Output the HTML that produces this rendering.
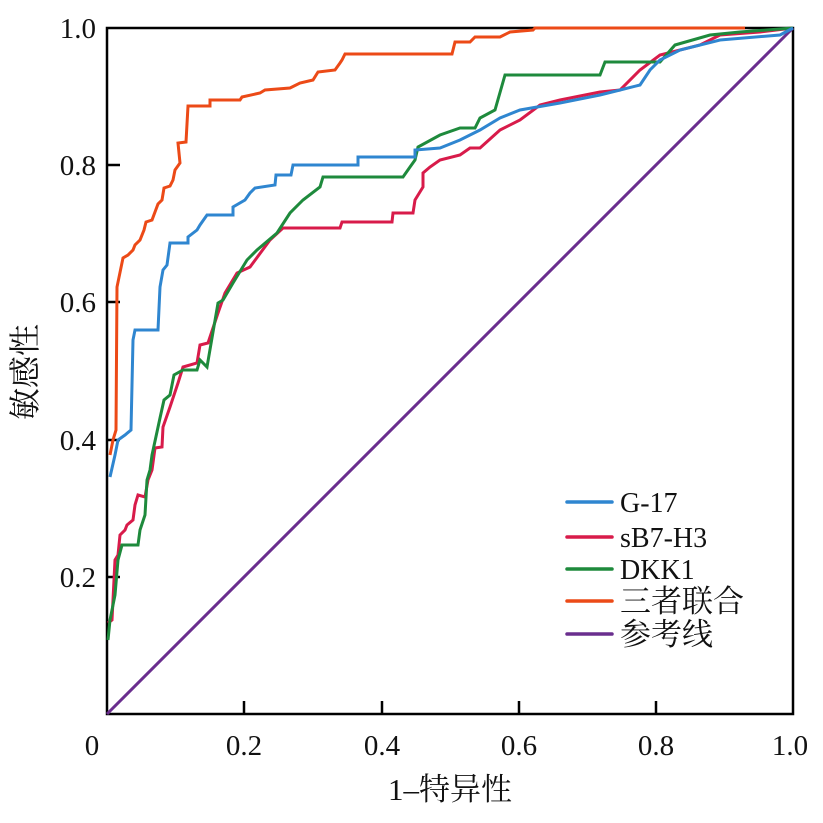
<!DOCTYPE html>
<html><head><meta charset="utf-8"><style>
body{margin:0;background:#fff}
text{font-family:"Liberation Serif","Noto Serif CJK SC",serif;font-size:29px;fill:#111}
</style></head><body>
<svg width="823" height="818" viewBox="0 0 823 818" xmlns="http://www.w3.org/2000/svg">
<rect x="107" y="28" width="686" height="686" fill="none" stroke="#000" stroke-width="2.5"/>
<g stroke="#000" stroke-width="2.5">
<line x1="107" y1="165" x2="120" y2="165"/><line x1="107" y1="302" x2="120" y2="302"/>
<line x1="107" y1="440" x2="120" y2="440"/><line x1="107" y1="577" x2="120" y2="577"/>
<line x1="244" y1="714" x2="244" y2="701"/><line x1="382" y1="714" x2="382" y2="701"/>
<line x1="519" y1="714" x2="519" y2="701"/><line x1="656" y1="714" x2="656" y2="701"/>
</g>
<g text-anchor="end">
<text x="96" y="38">1.0</text><text x="96" y="175">0.8</text><text x="96" y="312">0.6</text>
<text x="96" y="450">0.4</text><text x="96" y="587">0.2</text>
</g>
<g text-anchor="middle">
<text x="92" y="755">0</text><text x="244" y="755">0.2</text><text x="382" y="755">0.4</text>
<text x="519" y="755">0.6</text><text x="656" y="755">0.8</text><text x="790" y="755">1.0</text>
<text x="450" y="800" style="font-size:31px">1–特异性</text>
</g>
<text transform="translate(36,372) rotate(-90)" text-anchor="middle" style="font-size:32px">敏感性</text>
<line x1="107" y1="714" x2="793" y2="28" stroke="#6a2e8e" stroke-width="3"/>
<g fill="none" stroke-width="3" stroke-linejoin="miter">
<polyline stroke="#d81b4a" points="108,623 112,620 115,560 118,555 120,535 125,530 127,525 133,520 135,505 138,495 145,497 148,480 152,470 155,448 162,447 163,427 170,407 178,383 183,367 197,363 200,345 208,343 218,313 225,293 237,273 250,267 270,240 283,228 340,228 342,222 392,222 393,213 413,213 415,200 423,187 423,173 430,167 440,160 460,155 470,148 480,148 500,130 520,120 540,105 560,100 600,92 620,90 640,70 660,55 700,45 720,35 760,32 793,28"/>
<polyline stroke="#1e8a3c" points="108,640 110,620 115,595 118,560 122,545 138,545 140,530 145,515 147,480 150,470 152,455 160,418 164,400 170,395 174,375 183,370 197,370 200,360 207,367 218,303 223,300 233,283 247,260 257,250 277,233 290,213 303,200 320,187 323,177 403,177 410,167 415,160 418,147 440,135 460,128 475,128 480,118 495,110 505,75 600,75 605,62 660,62 675,45 710,35 740,32 793,28"/>
<polyline stroke="#2f86d0" points="110,477 115,455 118,440 125,435 131,430 133,340 135,330 158,330 160,287 163,270 167,265 170,243 188,243 188,237 197,230 200,225 207,215 233,215 233,207 245,200 250,193 255,188 275,185 276,175 291,175 293,165 358,165 358,157 415,157 415,150 440,148 460,140 480,130 500,118 520,110 560,103 600,95 620,90 640,85 650,70 660,60 680,50 720,40 780,35 793,28"/>
<polyline stroke="#ec4a17" points="110,455 113,440 116,430 117,287 123,258 128,255 133,250 135,245 140,240 144,230 146,222 152,220 155,212 158,204 162,200 164,188 170,186 173,180 175,170 180,163 178,143 186,142 188,106 210,106 210,100 240,100 242,97 260,93 265,90 290,88 300,83 313,80 318,72 335,70 340,63 342,60 345,54 452,54 455,42 470,42 475,37 500,37 510,32 533,30 535,28 745,28"/>
</g>
<g stroke-width="3.5" stroke-linecap="round">
<line x1="567" y1="502" x2="612" y2="502" stroke="#2f86d0"/>
<line x1="567" y1="537" x2="612" y2="537" stroke="#d81b4a"/>
<line x1="567" y1="569" x2="612" y2="569" stroke="#1e8a3c"/>
<line x1="567" y1="601" x2="612" y2="601" stroke="#ec4a17"/>
<line x1="567" y1="634" x2="612" y2="634" stroke="#6a2e8e"/>
</g>
<text x="620" y="512" style="font-size:28px">G-17</text>
<text x="620" y="547" style="font-size:28px">sB7-H3</text>
<text x="620" y="579" style="font-size:28px">DKK1</text>
<text x="620" y="612" style="font-size:31px">三者联合</text>
<text x="620" y="645" style="font-size:31px">参考线</text>
</svg>
</body></html>
